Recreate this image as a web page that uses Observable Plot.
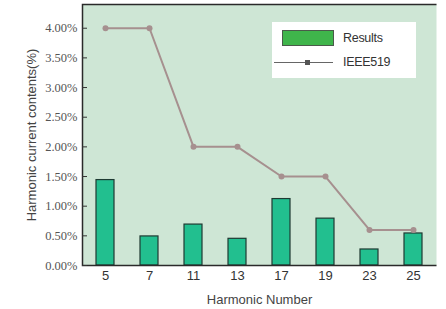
<!DOCTYPE html>
<html><head><meta charset="utf-8">
<script src="https://cdn.jsdelivr.net/npm/d3@7"></script>
<script src="https://cdn.jsdelivr.net/npm/@observablehq/plot@0.6"></script>
<style>
body{margin:0;background:#fff;}
#wrap{position:relative;width:446px;height:309px;}
#legend{position:absolute;left:272px;top:22px;width:144px;height:56px;background:#fff;font-family:"Liberation Sans",Arial,sans-serif;font-size:12.5px;color:#333;letter-spacing:-0.3px;}
#legend .sw{position:absolute;left:10px;top:8px;width:52px;height:16px;background:#3fb54b;border:1px solid #4a5a4a;box-sizing:border-box;}
#legend .ln{position:absolute;left:2px;top:40px;width:59px;height:1px;background:#666;}
#legend .mk{position:absolute;left:33px;top:38px;width:5px;height:5px;background:#555;}
#legend .t1{position:absolute;left:71px;top:9px;}
#legend .t2{position:absolute;left:71px;top:33px;}
</style>
</head><body><div id="wrap"></div>
<script>
const harmonics = ["5", "7", "11", "13", "17", "19", "23", "25"];
const results = [1.44, 0.49, 0.69, 0.45, 1.12, 0.79, 0.27, 0.54];
const ieee519 = [4.0, 4.0, 2.0, 2.0, 1.5, 1.5, 0.6, 0.6];
const yTicks = [0, 0.5, 1.0, 1.5, 2.0, 2.5, 3.0, 3.5, 4.0];
const seriesNames = ["Results", "IEEE519"];

const data = harmonics.map((h, i) => ({h, r: results[i], s: ieee519[i]}));

const W = 446, H = 309, mL = 82, mR = 10, mT = 4, mB = 44;
const pw = W - mL - mR, ph = H - mT - mB;

const chart = Plot.plot({
  width: W, height: H,
  marginLeft: mL, marginRight: mR, marginTop: mT, marginBottom: mB,
  style: {background: "#fff", overflow: "visible"},
  x: {type: "band", domain: harmonics, paddingInner: 0.6, paddingOuter: 0.3},
  y: {domain: [0, 4.4]},
  marks: [
    Plot.frame({fill: "#cee6d5"}),
    Plot.barY(data, {x: "h", y: "r", fill: "#22bf8f", stroke: "#1e3a32", strokeWidth: 1.2}),
    Plot.lineY(data, {x: "h", y: "s", stroke: "#a6908f", strokeWidth: 2}),
    Plot.dot(data, {x: "h", y: "s", fill: "#a6908f", r: 3}),
    Plot.frame({stroke: "#2a2a2a", strokeWidth: 1.5, strokeDasharray: `${pw},${ph},${pw + ph + 2}`}),
    Plot.axisY({ticks: yTicks, tickFormat: d => d.toFixed(2) + "%", tickSize: -5, tickPadding: 10,
      color: "#555", stroke: "#333",
      label: "Harmonic current contents(%)", labelAnchor: "center", labelArrow: "none", labelOffset: 56}),
    Plot.axisX({tickSize: 0, tickPadding: 5, fontSize: 13, color: "#333",
      label: "Harmonic Number", labelAnchor: "center", labelArrow: "none", labelOffset: 38})
  ]
});
chart.style.fontFamily = "Liberation Sans, Arial, sans-serif";
chart.querySelectorAll("[aria-label='y-axis tick label'] text").forEach(t => {
  t.style.fontFamily = "Liberation Serif, Times New Roman, serif";
  t.style.fontSize = "12.5px";
  t.style.fill = "#555";
});
chart.querySelectorAll("[aria-label='x-axis tick label'] text").forEach(t => {
  t.style.fontSize = "13px";
});
chart.querySelectorAll("[aria-label='y-axis label'] text, [aria-label='x-axis label'] text").forEach(t => {
  t.style.fontSize = "13px";
  t.style.fill = "#444";
});
const wrap = document.getElementById("wrap");
wrap.appendChild(chart);
const lg = document.createElement("div");
lg.id = "legend";
lg.innerHTML = `<div class="sw"></div><div class="t1">${seriesNames[0]}</div><div class="ln"></div><div class="mk"></div><div class="t2">${seriesNames[1]}</div>`;
wrap.appendChild(lg);
</script>
</body></html>
